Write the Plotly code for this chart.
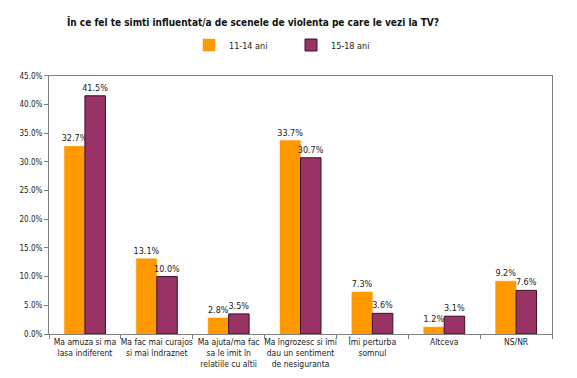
import plotly.graph_objects as go

categories = [
    "Ma amuza si ma<br>lasa indiferent",
    "Ma fac mai curajos<br>si mai îndraznet",
    "Ma ajuta/ma fac<br>sa le imit în<br>relatiile cu altii",
    "Ma îngrozesc si îmi<br>dau un sentiment<br>de nesiguranta",
    "Îmi perturba<br>somnul",
    "Altceva",
    "NS/NR",
]
series_11_14 = [0.327, 0.131, 0.028, 0.337, 0.073, 0.012, 0.092]
series_15_18 = [0.415, 0.100, 0.035, 0.307, 0.036, 0.031, 0.076]
series_names = ["11-14 ani", "15-18 ani"]

font = "DejaVu Sans Condensed"

fig = go.Figure()
fig.add_trace(go.Bar(
    x=categories, y=series_11_14, name=series_names[0],
    marker=dict(color="#FF9900", line=dict(color="#FF9900", width=0.5)),
    texttemplate="%{y:.1%}", textposition="outside", constraintext="none",
    textfont=dict(size=9, color="#222222"), cliponaxis=False,
))
fig.add_trace(go.Bar(
    x=categories, y=series_15_18, name=series_names[1],
    marker=dict(color="#993366", line=dict(color="#3a1026", width=1)),
    texttemplate="%{y:.1%}", textposition="outside", constraintext="none",
    textfont=dict(size=9, color="#222222"), cliponaxis=False,
))

fig.update_layout(
    width=577, height=378,
    margin=dict(l=40, r=33, t=47, b=52),
    paper_bgcolor="white", plot_bgcolor="white",
    barmode="group", bargap=0.43, bargroupgap=0,
    font=dict(family=font, size=9, color="#222222"),
    title=dict(text="<b>În ce fel te simti influentat/a de scenele de violenta pe care le vezi la TV?</b>",
               x=245/577, xanchor="center", xref="container",
               y=1 - 14/378, yanchor="middle", yref="container",
               font=dict(size=10, family=font, color="#111111")),
    legend=dict(orientation="h", x=181/577, y=1 - 37/378, xref="container", yref="container",
                xanchor="left", yanchor="middle",
                font=dict(size=9), itemwidth=30, traceorder="normal",
                entrywidth=57, entrywidthmode="pixels"),
    showlegend=True,
)
fig.update_xaxes(
    showline=True, linecolor="#808080", linewidth=1, mirror=True,
    ticks="outside", tickson="boundaries", ticklen=4, tickcolor="#808080",
    tickfont=dict(size=8.5), tickangle=0, showgrid=False,
)
fig.update_yaxes(
    range=[0, 0.45], dtick=0.05, tickformat=".1%",
    showline=True, linecolor="#808080", linewidth=1, mirror=True,
    ticks="outside", ticklen=4, tickcolor="#808080",
    tickfont=dict(size=8), showgrid=False, zeroline=False,
)

fig.write_html("out.html")
